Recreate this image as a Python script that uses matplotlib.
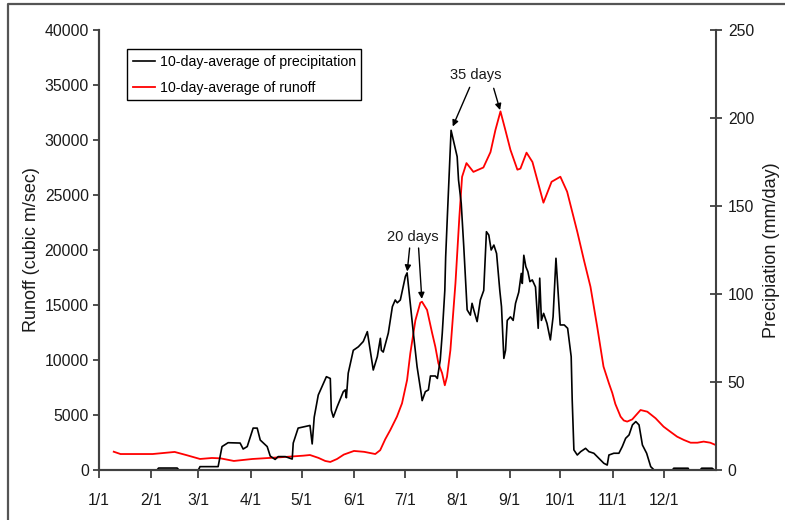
import numpy as np
import matplotlib
matplotlib.use('Agg')
from matplotlib import pyplot as plt
from matplotlib.lines import Line2D

plt.rcParams['font.family'] = ['Liberation Sans', 'DejaVu Sans']

# 10일 평균 강수량 (mm/day), x는 1월 1일부터의 일수
prec_day = [0, 34.6, 35.5, 46.5, 47.5, 59, 60, 70.7, 73, 76.6, 83.7, 85.5, 87.9, 91.4, 93.8, 95.6,
            99.7, 101.5, 104.4, 106.2, 110.4, 114.5, 115.1, 118, 125, 126.3, 127.5, 129.9, 134.7,
            137, 137.6, 138.8, 141.1, 144.7, 145.9, 146.5, 147.6, 150.6, 153.6, 156.5, 158.9,
            162.4, 164.8, 166.6, 167.2, 168.3, 171.3, 173.7, 175.4, 176.6, 178.4, 181.4, 182.4,
            186.1, 188.3, 190.8, 191.3, 193.2, 195, 196.2, 199.1, 200.3, 202, 203.2, 204.7, 205.2,
            206.2, 208.4, 210.4, 212, 212.8, 214.4, 215.9, 217.9, 219.8, 220.8, 221.8, 223.8,
            225.7, 227.7, 229.3, 230.7, 232.1, 233.7, 235.3, 237.2, 238.2, 239.6, 240.6, 241.6,
            243.5, 245.1, 246.5, 248.4, 249.9, 250.5, 251.4, 252.6, 253.8, 255, 256.4, 258.3,
            259.9, 260.8, 261.8, 263.1, 265.1, 267.1, 268.7, 270.4, 272.9, 275.3, 277.3, 279.4,
            280, 281, 283, 285, 287.9, 289.9, 292.8, 295.8, 298.7, 300.7, 301.7, 304.6, 307.6,
            309.6, 311.6, 313.6, 315.6, 317.6, 319.5, 321.5, 324, 326.4, 328.4, 339.3, 340,
            348.5, 349, 355.7, 356.5, 362.7, 364]
prec_mm = [0, 0, 1.1, 1.1, 0, 0, 1.9, 1.9, 13.3, 15.5, 15.3, 11.9, 13.3, 23.8, 23.8, 17,
           13.3, 7.9, 6, 7.6, 7.6, 6.2, 15.3, 23.8, 25.3, 14.8, 30, 42.6, 53,
           52, 34, 30, 36, 44.5, 45.5, 41, 55, 68, 70, 73, 78.6,
           56.8, 64.4, 74.8, 68, 67, 77.8, 92.8, 96.6, 95, 96.6, 110, 112,
           77.8, 58.7, 43, 39.4, 44.5, 45.5, 53.4, 53.4, 52, 62.5, 77.8, 102, 121,
           144, 193, 184.7, 178, 164.8, 151.5, 127, 91, 88, 94.7, 91, 84.3,
           96.6, 102, 135.4, 133.5, 125, 127.8, 123, 102, 92.8, 63.4, 68, 85,
           87, 85, 94.7, 101, 111.7, 106, 122, 115.5, 112.7, 107, 108, 104,
           80.5, 109, 85, 89, 83.3, 73.9, 87, 120.3, 82.4, 82.4, 80.5, 64.4,
           39.8, 11.4, 8.5, 10.4, 12.3, 10.4, 9.5, 6.6, 3.8, 2.8, 8.5, 9.5, 9.5,
           13.3, 18, 19.9, 25.6, 27.5, 25.6, 14.2, 9.5, 1.9, 0, 0, 1,
           1, 0, 0, 1, 1, 0]

# 10일 평균 유출량 (cubic m/sec)
runoff_day = [9, 13, 18, 32, 45, 52, 60, 67, 72, 80, 91, 107, 121, 125, 130, 134, 137, 141, 145,
              151, 157, 163.6, 166.5, 169.5, 172.5, 176.4, 179.4, 182.4, 184.3, 187.3, 190.2,
              191.2, 194.2, 197.2, 199.1, 200.9, 203.1, 204.7, 206, 208, 211, 213.3, 214.9, 217.5,
              221.6, 227.5, 231.7, 234.6, 237.6, 240.5, 243.5, 247.6, 249.4, 253, 256.5, 263,
              267.8, 273, 277, 283, 286.9, 290.8, 294.8, 298.5, 301.7, 303.7, 305.5, 308.6, 310.5,
              312.5, 315.5, 320.4, 324.4, 329.3, 334, 338, 342, 346, 350, 354, 357.7, 361.6, 364.8]
runoff_cms = [1660, 1450, 1450, 1450, 1640, 1350, 1000, 1090, 1060, 820, 1000, 1150, 1300, 1360,
              1100, 820, 730, 1000, 1400, 1730, 1650, 1450, 1800, 2800, 3640, 4850, 6060, 8180,
              10600, 13600, 15200, 15300, 14550, 12450, 11200, 9700, 8800, 7700, 8480, 10900,
              17000, 23000, 26650, 27900, 27100, 27500, 28900, 30900, 32600, 30900, 29100, 27300,
              27400, 28850, 28000, 24300, 26200, 26660, 25300, 21660, 19100, 16660, 13000, 9400,
              7880, 7000, 6000, 4850, 4500, 4400, 4600, 5450, 5300, 4700, 3940, 3480, 3030, 2730,
              2480, 2480, 2580, 2480, 2270]

month_days = [0, 31, 59, 90, 120, 151, 181, 212, 243, 273, 304, 334]
month_labels = ['1/1', '2/1', '3/1', '4/1', '5/1', '6/1', '7/1', '8/1', '9/1', '10/1', '11/1', '12/1']

axis_col = '#404040'
text_col = '#1a1a1a'

fig = plt.figure(figsize=(7.85, 5.2), dpi=100)
ax = fig.add_axes([0.1255, 0.0962, 0.7866, 0.8461])
ax2 = ax.twinx()

# 유출량은 왼쪽 축, 강수량은 오른쪽 축
l_run, = ax.plot(runoff_day, runoff_cms, color='#ff0000', lw=1.3, label='10-day-average of runoff')
l_pre, = ax2.plot(prec_day, prec_mm, color='black', lw=1.2, label='10-day-average of precipitation')

ax.set_xlim(0, 365)
ax.set_ylim(0, 40000)
ax2.set_ylim(0, 250)
ax.set_yticks(np.arange(0, 40001, 5000))
ax2.set_yticks(np.arange(0, 251, 50))
ax.set_xticks(month_days)
ax.set_xticklabels(month_labels)

for a in (ax, ax2):
    a.spines['top'].set_visible(False)
    for s in ('left', 'right', 'bottom'):
        a.spines[s].set_color(axis_col)
        a.spines[s].set_linewidth(1.5)
ax.spines['right'].set_visible(False)

ax.tick_params(axis='y', direction='out', length=4, width=1.3, color=axis_col,
               labelsize=11.3, labelcolor=text_col, pad=3)
ax.tick_params(axis='x', direction='out', length=6, width=1.3, color=axis_col,
               labelsize=11.3, labelcolor=text_col, pad=10.5)
ax2.tick_params(axis='y', direction='inout', length=9, width=1.3, color=axis_col,
                labelsize=11.3, labelcolor=text_col, pad=4)

ax.set_ylabel('Runoff (cubic m/sec)', fontsize=13, color=text_col, labelpad=3)
ax2.set_ylabel('Precipiation (mm/day)', fontsize=13, color=text_col, labelpad=6)

leg = ax2.legend(handles=[l_pre, l_run], loc='upper left', bbox_to_anchor=(0.046, 0.957),
                 fontsize=10.2, frameon=True, fancybox=False, framealpha=1,
                 edgecolor='black', handlelength=1.6, handletextpad=0.3,
                 borderpad=0.4, labelspacing=0.85, borderaxespad=0)
leg.get_frame().set_linewidth(1.0)

# 피크 간 지연 표시
pk_pre = int(np.argmax(prec_mm))
pk_run = int(np.argmax(runoff_cms))
i_pre20 = prec_mm.index(112)
i_run20 = runoff_cms.index(15300)

arrow = dict(arrowstyle='-|>', color='black', lw=1.0, mutation_scale=9, shrinkA=0)
ax.text(185.5, 21180, '20 days', ha='center', va='center', fontsize=10.5, color=text_col)
ax2.annotate('', xy=(prec_day[i_pre20], prec_mm[i_pre20]), xytext=(183.9, 20180),
             textcoords=ax.transData, arrowprops=dict(arrow, shrinkB=1))
ax.annotate('', xy=(runoff_day[i_run20], runoff_cms[i_run20]), xytext=(189.2, 20180),
            arrowprops=dict(arrow, shrinkB=2))
ax.text(222.8, 35900, '35 days', ha='center', va='center', fontsize=10.5, color=text_col)
ax2.annotate('', xy=(prec_day[pk_pre], prec_mm[pk_pre]), xytext=(219.4, 34790),
             textcoords=ax.transData, arrowprops=dict(arrow, shrinkB=3))
ax.annotate('', xy=(runoff_day[pk_run], runoff_cms[pk_run]), xytext=(233.6, 34700),
            arrowprops=dict(arrow, shrinkB=1))

# 그림 테두리 (위쪽, 왼쪽)
fig.add_artist(Line2D([0.0102, 0.0102, 1.0], [0.0, 0.9923, 0.9923],
                      transform=fig.transFigure, color='#555555', lw=1.6))

plt.savefig('out.png', dpi=100)
